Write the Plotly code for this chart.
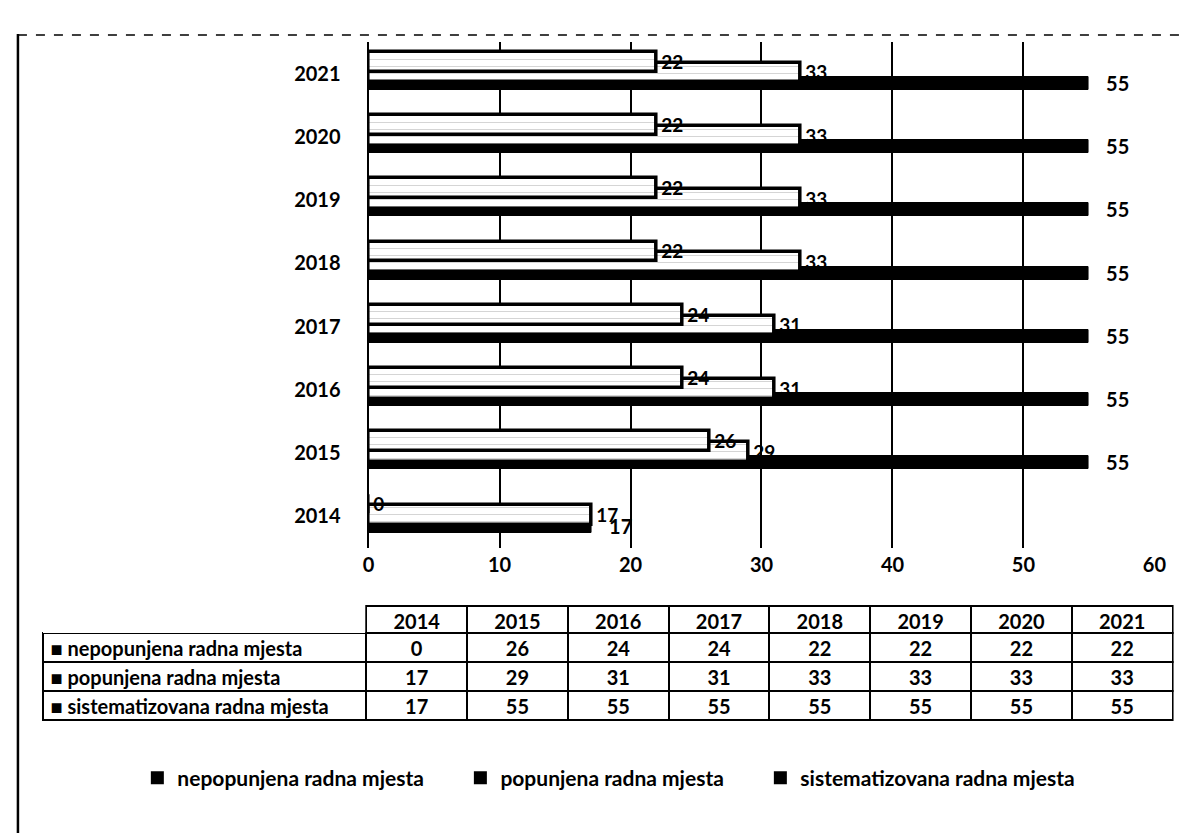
import plotly.graph_objects as go

# ---- data ----
years = ['2014', '2015', '2016', '2017', '2018', '2019', '2020', '2021']
nepopunjena = [0, 26, 24, 24, 22, 22, 22, 22]
popunjena = [17, 29, 31, 31, 33, 33, 33, 33]
sistematizovana = [17, 55, 55, 55, 55, 55, 55, 55]
series_names = ['nepopunjena radna mjesta', 'popunjena radna mjesta',
                'sistematizovana radna mjesta']
x_ticks = [0, 10, 20, 30, 40, 50, 60]

FONT = 'Lato'
OFF = 8                      # page body margin of the html page
W, H = 1196 - OFF, 833 - OFF


def px(x):                   # window pixel -> paper fraction (x)
    return (x - OFF) / W


def py(y):                   # window pixel -> paper fraction (y)
    return 1 - (y - OFF) / H


tick_font = dict(family=FONT, size=20, color='black', weight='bold')
label_font = dict(family=FONT, size=19, color='black', weight='bold')

fig = go.Figure()

# bars (bottom bar drawn first so the later ones overlap it)
fig.add_trace(go.Bar(
    y=years, x=sistematizovana, orientation='h', name=series_names[2],
    offset=-0.255, width=0.205,
    marker=dict(color='black', line=dict(color='black', width=1)),
    text=sistematizovana, texttemplate='\u2003%{x}', textposition='outside',
    constraintext='none', cliponaxis=False,
    textfont=dict(family=FONT, size=20, color='black', weight='bold'),
    showlegend=False))
fig.add_trace(go.Bar(
    y=years, x=popunjena, orientation='h', name=series_names[1],
    offset=-0.14, width=0.315,
    marker=dict(color='white', line=dict(color='black', width=3.5),
                pattern=dict(shape='-', fgcolor='#9a9a9a', bgcolor='white',
                             size=7, solidity=0.12)),
    text=popunjena, texttemplate='\u2009%{x}', textposition='outside',
    constraintext='none', cliponaxis=False, textfont=label_font,
    showlegend=False))
fig.add_trace(go.Bar(
    y=years, x=nepopunjena, orientation='h', name=series_names[0],
    offset=0.03, width=0.315,
    marker=dict(color='white', line=dict(color='black', width=3.5),
                pattern=dict(shape='-', fgcolor='#9a9a9a', bgcolor='white',
                             size=7, solidity=0.12)),
    text=nepopunjena, texttemplate='\u2009%{x}', textposition='outside',
    constraintext='none', cliponaxis=False, textfont=label_font,
    showlegend=False))

# legend entries (black squares as in the print); em spaces widen the gaps
legend_pad = ['\u2003\u2003', '\u2003\u2003', '']
for nm, pad in zip(series_names, legend_pad):
    fig.add_trace(go.Scatter(
        x=[None], y=[None], mode='markers', name=nm + pad,
        marker=dict(symbol='square', color='black', size=13)))

# data table under the chart
header_vals = [''] + years
cell_vals = [['\u25a0 ' + n for n in series_names]] + [
    [nepopunjena[i], popunjena[i], sistematizovana[i]] for i in range(len(years))]
fig.add_trace(go.Table(
    domain=dict(x=[px(37), px(1185)], y=[py(730), py(606)]),
    columnwidth=[326] + [101.5] * len(years),
    header=dict(values=header_vals,
                line=dict(color=['rgba(0,0,0,0)'] + ['black'] * len(years), width=2),
                fill=dict(color='white'), align='center',
                font=dict(family=FONT, size=20, color='black', weight='bold'),
                height=27),
    cells=dict(values=cell_vals,
               line=dict(color='black', width=2),
               fill=dict(color='white'),
               align=['left'] + ['center'] * len(years),
               font=dict(family=FONT, size=[20] + [20] * len(years),
                         color='black', weight='bold'),
               height=29)))

fig.update_layout(
    width=W, height=H,
    margin=dict(l=0, r=0, t=0, b=0, pad=0),
    paper_bgcolor='white', plot_bgcolor='white',
    barmode='overlay', bargap=0,
    font=dict(family=FONT, size=20, color='black'),
    xaxis=dict(domain=[px(368), px(1166)], range=[0, 60], tickvals=x_ticks,
               showgrid=True, gridcolor='black', gridwidth=2,
               zeroline=False, showline=False, ticks='',
               tickfont=tick_font, ticklabelstandoff=3, fixedrange=True),
    yaxis=dict(domain=[py(548), py(42)], type='category',
               categoryorder='array', categoryarray=years,
               showgrid=False, zeroline=False, showline=True,
               linecolor='black', linewidth=2, ticks='',
               tickfont=tick_font, ticklabelstandoff=22, fixedrange=True),
    legend=dict(orientation='h', x=px(612), xanchor='center',
                y=py(778), yanchor='middle',
                font=dict(family=FONT, size=21, color='black', weight='bold'),
                traceorder='normal', itemclick=False, itemwidth=30),
    shapes=[
        dict(type='line', xref='paper', yref='paper',
             x0=px(12), x1=px(12), y0=0, y1=py(34),
             line=dict(color='black', width=2.5)),
        dict(type='line', xref='paper', yref='paper',
             x0=px(12), x1=1, y0=py(35), y1=py(35),
             line=dict(color='black', width=1.5, dash='dash')),
    ],
)

fig.write_html('out.html')
